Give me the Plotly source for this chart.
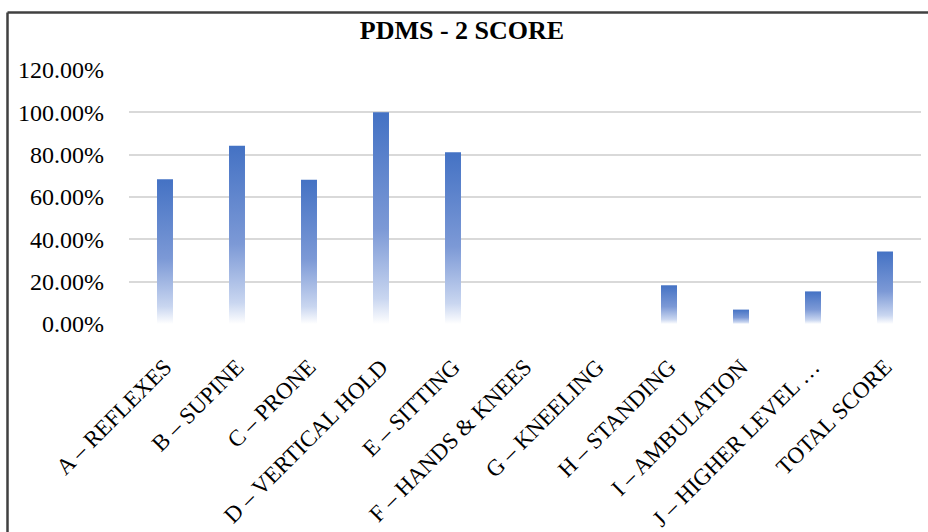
import plotly.graph_objects as go

categories = ["A – REFLEXES", "B – SUPINE", "C – PRONE", "D – VERTICAL HOLD",
              "E – SITTING", "F – HANDS & KNEES", "G – KNEELING", "H – STANDING",
              "I – AMBULATION", "J – HIGHER LEVEL …", "TOTAL SCORE"]
values = [0.684, 0.842, 0.682, 1.000, 0.812, 0.0, 0.0, 0.183, 0.068, 0.154, 0.343]
y_ticks = [0, 0.2, 0.4, 0.6, 0.8, 1.0, 1.2]

BAR_W = 0.222
grad = [[0.0, "#FFFFFF"], [0.12, "#C9D6F0"], [0.45, "#7C99D6"], [1.0, "#4472C4"]]

fig = go.Figure()
for i, (cat, v) in enumerate(zip(categories, values)):
    if v <= 0:
        continue
    x0, x1 = i - BAR_W / 2, i + BAR_W / 2
    fig.add_trace(go.Scatter(
        x=[x0, x1, x1, x0, x0], y=[0, 0, v, v, 0],
        mode="lines", fill="toself", line=dict(width=0),
        fillgradient=dict(type="vertical", colorscale=grad, start=0, stop=v),
        name=cat, hoveron="fills", hoverinfo="text",
        text=f"{cat}: {v:.2%}", showlegend=False,
    ))

serif = "Liberation Serif, Times New Roman, serif"
PX_L, PX_R, PX_T, PX_B = 129, 921, 70, 324
pw, ph = PX_R - PX_L, PX_B - PX_T
bx = (7.5 - PX_L) / pw
by = (PX_B - 12.5) / ph
fig.update_layout(
    width=928, height=532,
    margin=dict(l=PX_L, r=928 - PX_R, t=PX_T, b=532 - PX_B, autoexpand=False),
    paper_bgcolor="white", plot_bgcolor="white",
    title=dict(text="<b>PDMS - 2 SCORE</b>", x=462 / 928, xref="container", xanchor="center",
               y=1 - 30 / 532, yanchor="middle",
               font=dict(family=serif, size=26, color="#000000")),
    xaxis=dict(range=[-0.5, len(categories) - 0.5], tickmode="array",
               tickvals=list(range(len(categories))), ticktext=categories,
               tickangle=-45, showgrid=False, zeroline=False, showline=False,
               ticks="", ticklabelstandoff=24, automargin=False,
               tickfont=dict(family=serif, size=23, color="#000000")),
    yaxis=dict(range=[0, 1.2], tickmode="array", tickvals=y_ticks, tickformat=".2%",
               showgrid=True, gridcolor="#D9D9D9", gridwidth=1.5, zeroline=False,
               showline=False, ticks="", ticklabelstandoff=24, automargin=False,
               tickfont=dict(family=serif, size=24, color="#000000")),
    shapes=[
        dict(type="line", xref="paper", yref="paper", x0=bx, x1=bx, y0=-1.0, y1=by,
             line=dict(color="#404040", width=2.5), layer="above"),
        dict(type="line", xref="paper", yref="paper", x0=bx, x1=(960 - PX_L) / pw, y0=by, y1=by,
             line=dict(color="#404040", width=2.5), layer="above"),
    ],
)

fig.write_html("out.html", config={"displayModeBar": False},
               post_script="document.body.style.margin='0';document.body.style.overflow='hidden';")
